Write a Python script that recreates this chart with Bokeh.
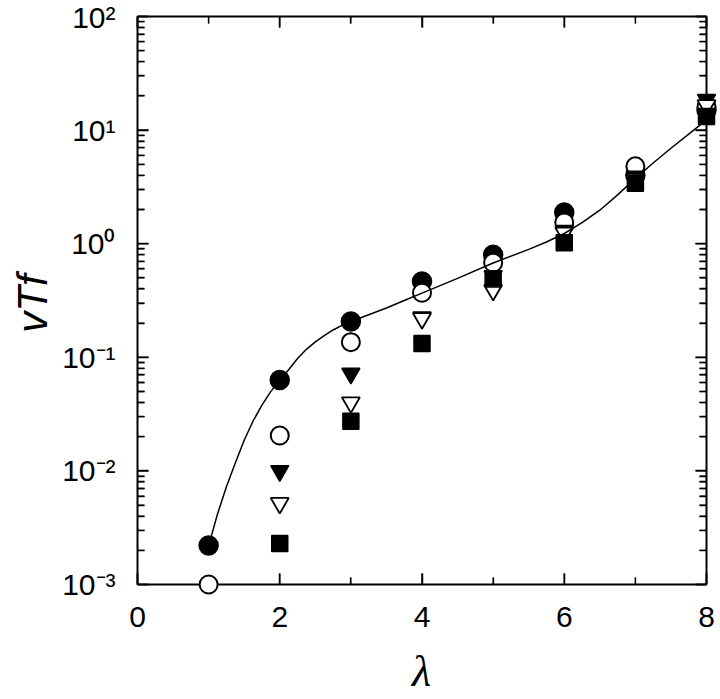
import math
from bokeh.plotting import figure
from bokeh.models import (LogAxis, LinearAxis, SingleIntervalTicker, LogTicker,
                          FixedTicker, Range1d, CustomJSTickFormatter)
from bokeh.embed import file_html
from bokeh.resources import INLINE

# ---- data ----
lam_all = [1, 2, 3, 4, 5, 6, 7, 8]
lam_rest = [2, 3, 4, 5, 6, 7, 8]

filled_circles = [0.0022, 0.063, 0.207, 0.465, 0.80, 1.88, 4.0, 15.0]
open_circles = [0.001, 0.0205, 0.136, 0.37, 0.68, 1.54, 4.8, 16.0]
filled_triangles = [0.0100, 0.072, 0.225, 0.52, 1.30, 3.9, 18.5]
open_triangles = [0.0052, 0.040, 0.22, 0.39, 1.25, 3.7, 16.5]
filled_squares = [0.00229, 0.0274, 0.132, 0.49, 1.02, 3.4, 13.2]

curve_x = [1.0, 1.125, 1.25, 1.375, 1.5, 1.625, 1.75, 1.875, 2.0,
           2.125, 2.25, 2.375, 2.5, 2.625, 2.75, 2.875, 3.0,
           3.25, 3.5, 3.75, 4.0, 4.5, 5.0, 5.5, 5.75, 6.0,
           6.25, 6.5, 6.75, 7.0, 7.25, 7.5, 7.75, 8.0]
curve_y = [0.0022, 0.00417, 0.00724, 0.01175, 0.0186, 0.0275, 0.0380, 0.0501,
           0.0625, 0.0776, 0.0977, 0.1175, 0.1365, 0.155, 0.174, 0.191,
           0.2065, 0.237, 0.272, 0.316, 0.367, 0.495, 0.676, 0.891, 1.035,
           1.230, 1.531, 1.972, 2.692, 3.758, 5.129, 6.918, 9.226, 12.30]

x_lo, x_hi = 0, 8
y_lo, y_hi = 1e-3, 1e2
x_major = [0, 2, 4, 6, 8]
x_minor = [1, 3, 5, 7]
y_major = [1e-3, 1e-2, 1e-1, 1e0, 1e1, 1e2]
y_tick_labels = ["10⁻³", "10⁻²", "10⁻¹", "10⁰", "10¹", "10²"]
y_minor = [m * d for d in [1e-3, 1e-2, 1e-1, 1e0, 1e1]
           for m in [2, 3, 4, 5, 6, 7, 8, 9]]

x_label = "λ"
y_label = "vTf"

# ---- layout (pixels) ----
box_w, box_h = 569, 568
pad_l, pad_r, pad_t, pad_b = 12, 11, 4, 10
major_len, minor_len = 11, 7
px_per_x = box_w / (x_hi - x_lo)
px_per_dec = box_h / (math.log10(y_hi) - math.log10(y_lo))
xr = Range1d(x_lo - pad_l / px_per_x, x_hi + pad_r / px_per_x)
yr = Range1d(10 ** (math.log10(y_lo) - pad_b / px_per_dec),
             10 ** (math.log10(y_hi) + pad_t / px_per_dec))

p = figure(frame_width=box_w + pad_l + pad_r, frame_height=box_h + pad_t + pad_b,
           x_range=xr, y_range=yr, y_axis_type="log",
           x_axis_location=None, y_axis_location=None,
           output_backend="svg", toolbar_location=None,
           min_border_left=137 - pad_l, min_border_top=16 - pad_t,
           min_border_right=0, min_border_bottom=0)
p.grid.visible = False
p.outline_line_color = None
p.background_fill_color = "white"
p.border_fill_color = "white"

blank = CustomJSTickFormatter(code="return ''")


def style_ticks(ax):
    ax.axis_line_width = 2
    ax.axis_line_color = "black"
    ax.major_tick_line_width = 1.5
    ax.minor_tick_line_width = 1.3
    ax.major_tick_line_color = "black"
    ax.minor_tick_line_color = "black"
    ax.major_tick_in = major_len
    ax.major_tick_out = 0
    ax.minor_tick_in = minor_len
    ax.minor_tick_out = 0
    return ax


def label_axis(ax):
    ax.axis_line_color = None
    ax.major_tick_line_color = None
    ax.minor_tick_line_color = None
    ax.major_tick_in = ax.major_tick_out = 0
    ax.minor_tick_in = ax.minor_tick_out = 0
    ax.major_label_text_font = "Liberation Sans"
    ax.major_label_text_font_size = "30px"
    ax.major_label_text_color = "black"
    return ax


# tick labels and titles (innermost in their panels)
bottom = label_axis(LinearAxis(ticker=FixedTicker(ticks=x_major)))
bottom.major_label_standoff = 12
bottom.axis_label = x_label
bottom.axis_label_text_font = "Liberation Serif"
bottom.axis_label_text_font_style = "italic"
bottom.axis_label_text_font_size = "44px"
bottom.axis_label_text_color = "black"
bottom.axis_label_standoff = 17
p.add_layout(bottom, "below")

left = label_axis(LogAxis(ticker=FixedTicker(ticks=y_major)))
left.major_label_overrides = dict(zip(y_major, y_tick_labels))
left.major_label_standoff = 10
left.axis_label = y_label
left.axis_label_text_font = "Liberation Sans"
left.axis_label_text_font_style = "italic"
left.axis_label_text_font_size = "42px"
left.axis_label_text_color = "black"
left.axis_label_standoff = 3
p.add_layout(left, "left")

# box edges: fixed-location axes at the data limits
top_ax = LinearAxis(ticker=FixedTicker(ticks=x_major, minor_ticks=x_minor),
                    fixed_location=y_hi, bounds=(x_lo, x_hi), formatter=blank,
                    major_label_text_font_size="4px", major_label_standoff=0)
bot_ax = LinearAxis(ticker=FixedTicker(ticks=x_major, minor_ticks=x_minor),
                    fixed_location=y_lo, bounds=(x_lo, x_hi), formatter=blank,
                    major_label_text_font_size="4px", major_label_standoff=0)
lft_ax = LogAxis(ticker=FixedTicker(ticks=y_major, minor_ticks=y_minor),
                 fixed_location=x_lo, bounds=(y_lo, y_hi), formatter=blank,
                 major_label_text_font_size="4px", major_label_standoff=0)
rgt_ax = LogAxis(ticker=FixedTicker(ticks=y_major, minor_ticks=y_minor),
                 fixed_location=x_hi, bounds=(y_lo, y_hi), formatter=blank,
                 major_label_text_font_size="4px", major_label_standoff=0)
for ax in (top_ax, bot_ax, lft_ax, rgt_ax):
    style_ticks(ax)
p.add_layout(top_ax, "above")
p.add_layout(bot_ax, "below")
p.add_layout(lft_ax, "left")
p.add_layout(rgt_ax, "right")

# inward tick marks on all four sides, placed from the tick lists
for ticks, length, width in ((x_major, major_len, 1.5), (x_minor, minor_len, 1.3)):
    f = 10 ** (length / px_per_dec)
    n = len(ticks)
    p.segment(x0=ticks, y0=[y_lo] * n, x1=ticks, y1=[y_lo * f] * n,
              line_color="black", line_width=width)
    p.segment(x0=ticks, y0=[y_hi] * n, x1=ticks, y1=[y_hi / f] * n,
              line_color="black", line_width=width)
for ticks, length, width in ((y_major, major_len, 1.5), (y_minor, minor_len, 1.3)):
    dx = length / px_per_x
    n = len(ticks)
    p.segment(x0=[x_lo] * n, y0=ticks, x1=[x_lo + dx] * n, y1=ticks,
              line_color="black", line_width=width)
    p.segment(x0=[x_hi] * n, y0=ticks, x1=[x_hi - dx] * n, y1=ticks,
              line_color="black", line_width=width)

# ---- markers (drawn above the axes) ----
kw = dict(level="annotation")
p.scatter(lam_all, filled_circles, marker="circle", size=19,
          fill_color="black", line_color="black", line_width=1.5, **kw)
p.scatter(lam_all, open_circles, marker="circle", size=18,
          fill_color="white", line_color="black", line_width=2, **kw)
p.scatter(lam_rest, filled_triangles, marker="inverted_triangle", size=18,
          fill_color="black", line_color="black", line_width=1.5, **kw)
p.scatter(lam_rest, open_triangles, marker="inverted_triangle", size=18,
          fill_color="white", line_color="black", line_width=1.8, **kw)
p.scatter(lam_rest, filled_squares, marker="square", size=16,
          fill_color="black", line_color="black", line_width=1.5, **kw)

# ---- curve ----
p.line(curve_x, curve_y, line_color="black", line_width=1.5,
       line_join="round", **kw)

open("out.html", "w").write(file_html(p, INLINE))
